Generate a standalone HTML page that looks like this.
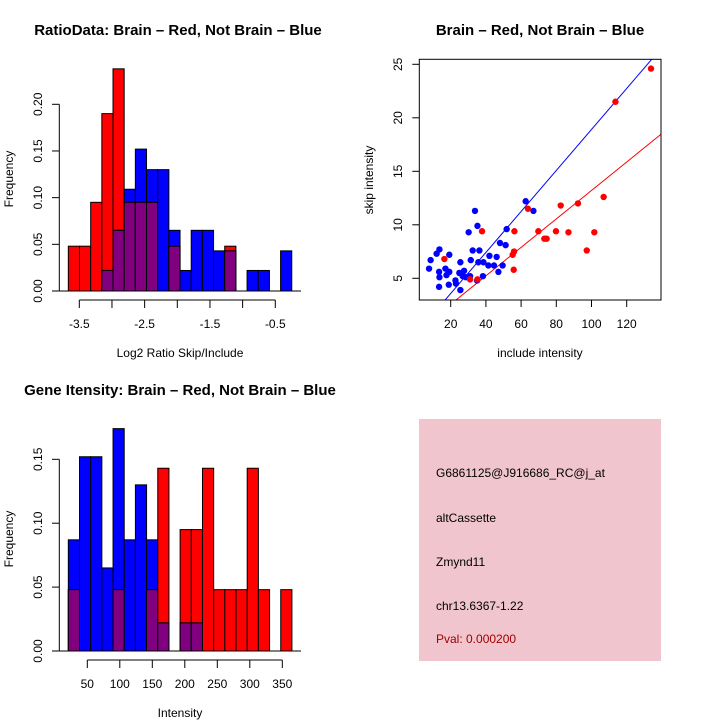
<!DOCTYPE html>
<html><head><meta charset="utf-8"><style>
body{margin:0;background:#fff}
svg text{font-family:"Liberation Sans",sans-serif;fill:#000}
</style></head><body>
<svg id="s" width="720" height="720" xmlns="http://www.w3.org/2000/svg">
<rect width="720" height="720" fill="#fff"/>
<g id="p1"></g>
<g id="p2"></g>
<g id="p3"></g>
<g>
<rect x="419" y="419" width="242" height="242" fill="#f1c5cd"/>
<text x="436" y="477" font-size="12">G6861125@J916686_RC@j_at</text>
<text x="436" y="522" font-size="12">altCassette</text>
<text x="436" y="566" font-size="12">Zmynd11</text>
<text x="436" y="610" font-size="12">chr13.6367-1.22</text>
<text x="436" y="643" font-size="12" style="fill:#a00000">Pval: 0.000200</text>
</g>
</svg>
<script>
// Plot 1 data
const ratioBinStart=-3.668, ratioBinWidth=0.171;
const ratioRed=[0.048,0.048,0.095,0.19,0.238,0.095,0.095,0.095,0,0.048,0,0,0,0,0.048,0,0,0,0,0];
const ratioBlue=[0,0,0,0.022,0.065,0.109,0.152,0.13,0.13,0.065,0.022,0.065,0.065,0.043,0.043,0,0.022,0.022,0,0.043];
const ratioXTicks=[-3.5,-3,-2.5,-2,-1.5,-1,-0.5];
const ratioXLabels=["-3.5","","-2.5","","-1.5","","-0.5"];
const ratioYTicks=[0,0.05,0.1,0.15,0.2];
const ratioYLabels=["0.00","0.05","0.10","0.15","0.20"];
// Plot 2 data
const redX=[133.8,113.6,106.9,92.3,82.5,63.9,101.6,86.9,79.8,69.8,56.2,37.8,73.2,74.5,97.3,56.0,55.2,55.8,16.4,35.2,31];
const redY=[24.6,21.5,12.6,12.0,11.8,11.5,9.3,9.3,9.4,9.4,9.4,9.4,8.7,8.7,7.6,7.5,7.2,5.8,6.8,4.9,4.9];
const blueX=[62.6,67,33.8,35.2,51.8,30.2,48,51.2,13.6,12,19.2,8.6,32.5,36.3,42,46.1,31.4,35.7,38.6,41.4,44.6,49.5,25.5,7.7,17,13.4,19.2,17.6,24.9,27.6,26.8,28.6,31,47.1,38.3,35,13.6,22.7,23,18.9,13.4,25.5];
const blueY=[12.2,11.3,11.3,9.9,9.6,9.3,8.3,8.1,7.7,7.3,7.2,6.7,7.6,7.6,7.1,7.0,6.7,6.5,6.5,6.2,6.2,6.2,6.5,5.9,5.9,5.6,5.6,5.3,5.5,5.7,5.2,5.1,5.2,5.6,5.2,4.8,5.1,4.8,4.5,4.4,4.2,3.9];
const blueFit=[-0.25,0.1916];
const redFit=[-0.09,0.133];
const scatXTicks=[20,40,60,80,100,120];
const scatYTicks=[5,10,15,20,25];
// Plot 3 data
const geneBinStart=20.8, geneBinWidth=17.2;
const geneRed=[0.048,0,0,0,0.048,0,0,0.048,0.143,0,0.095,0.095,0.143,0.048,0.048,0.048,0.143,0.048,0,0.048];
const geneBlue=[0.087,0.152,0.152,0.065,0.174,0.087,0.13,0.087,0.022,0,0.022,0.022,0,0,0,0,0,0,0,0];
const geneXTicks=[50,100,150,200,250,300,350];
const geneYTicks=[0,0.05,0.1,0.15];
const geneYLabels=["0.00","0.05","0.10","0.15"];

const NS="http://www.w3.org/2000/svg";
function mk(parent,tag,attrs,txt){const e=document.createElementNS(NS,tag);for(const k in attrs)e.setAttribute(k,attrs[k]);if(txt!==undefined)e.textContent=txt;parent.appendChild(e);return e;}

function hist(g,o){
  const sx=v=>o.x0+(v-o.v0)*o.kx, sy=v=>o.y0-v*o.ky;
  const n=o.red.length;
  for(let i=0;i<n;i++){
    const a=sx(o.bs+i*o.bw), b=sx(o.bs+(i+1)*o.bw);
    const r=o.red[i], bl=o.blue[i], m=Math.min(r,bl);
    if(r>0){const e=mk(g,'rect',{x:a,y:sy(r),width:b-a,height:sy(0)-sy(r),fill:'#ff0000',stroke:'#000','stroke-width':1});
      
      }
    if(bl>0){const e=mk(g,'rect',{x:a,y:sy(bl),width:b-a,height:sy(0)-sy(bl),fill:'#0000ff',stroke:'#000','stroke-width':1});
      
      }
    if(m>0){const e=mk(g,'rect',{x:a,y:sy(m),width:b-a,height:sy(0)-sy(m),fill:'#800080',stroke:'#000','stroke-width':1});
      
      }
  }
  mk(g,'line',{x1:59.3,x2:301,y1:sy(0),y2:sy(0),stroke:'#000'});
  const yt=o.yTicks;
  mk(g,'line',{x1:59.3,x2:59.3,y1:sy(yt[0]),y2:sy(yt[yt.length-1]),stroke:'#000'});
  yt.forEach((t,i)=>{mk(g,'line',{x1:52,x2:59.3,y1:sy(t),y2:sy(t),stroke:'#000'});
    const e=mk(g,'text',{x:42,y:sy(t),'font-size':12,'text-anchor':'middle',transform:`rotate(-90 42 ${sy(t)})`},o.yLabels[i]);
    
    });
  const xt=o.xTicks, ay=o.y0+9;
  mk(g,'line',{x1:sx(xt[0]),x2:sx(xt[xt.length-1]),y1:ay,y2:ay,stroke:'#000'});
  xt.forEach((t,i)=>{mk(g,'line',{x1:sx(t),x2:sx(t),y1:ay,y2:ay+8,stroke:'#000'});
    const e=mk(g,'text',{x:sx(t),y:ay+28,'font-size':12,'text-anchor':'middle'},o.xLabels[i]);
    
    });
  let e=mk(g,'text',{x:o.tx,y:o.ty,'font-size':15,'font-weight':'bold','text-anchor':'middle'},o.title);
  
  
  e=mk(g,'text',{x:180,y:o.y0+66,'font-size':12,'text-anchor':'middle'},o.xlab);
  
  
  e=mk(g,'text',{x:13,y:o.ylabY,'font-size':12,'text-anchor':'middle',transform:`rotate(-90 13 ${o.ylabY})`},'Frequency');
  
  
}
hist(document.getElementById('p1'),{x0:79.3,v0:-3.5,kx:65.33,y0:291,ky:933.5,bs:ratioBinStart,bw:ratioBinWidth,red:ratioRed,blue:ratioBlue,
  xTicks:ratioXTicks,xLabels:ratioXLabels,yTicks:ratioYTicks,yLabels:ratioYLabels,title:'RatioData: Brain \u2013 Red, Not Brain \u2013 Blue',tx:178,ty:35,xlab:'Log2 Ratio Skip/Include',ylabY:179});
hist(document.getElementById('p3'),{x0:87.3,v0:50,kx:0.65,y0:651,ky:1278,bs:geneBinStart,bw:geneBinWidth,red:geneRed,blue:geneBlue,
  xTicks:geneXTicks,xLabels:geneXTicks.map(String),yTicks:geneYTicks,yLabels:geneYLabels,title:'Gene Itensity: Brain \u2013 Red, Not Brain \u2013 Blue',tx:180,ty:395,xlab:'Intensity',ylabY:539});

(function(){
  const g=document.getElementById('p2');
  const L=419.3,R=661,T=59.3,B=300;
  const sx=v=>450.7+(v-20)*1.76, sy=v=>278.3-(v-5)*10.7;
  const xmin=(L-450.7)/1.76+20, xmax=(R-450.7)/1.76+20;
  mk(g,'defs',{}).innerHTML=`<clipPath id="cp"><rect x="${L}" y="${T}" width="${R-L}" height="${B-T}"/></clipPath>`;
  const cl=mk(g,'g',{'clip-path':'url(#cp)'});
  let e=mk(cl,'line',{x1:sx(xmin),y1:sy(blueFit[0]+blueFit[1]*xmin),x2:sx(xmax),y2:sy(blueFit[0]+blueFit[1]*xmax),stroke:'#0000ff'});
  
  
  e=mk(cl,'line',{x1:sx(xmin),y1:sy(redFit[0]+redFit[1]*xmin),x2:sx(xmax),y2:sy(redFit[0]+redFit[1]*xmax),stroke:'#ff0000'});
  
  
  blueX.forEach((x,i)=>{const c=mk(cl,'circle',{cx:sx(x),cy:sy(blueY[i]),r:3.2,fill:'#0000ff'});
    
    });
  redX.forEach((x,i)=>{const c=mk(cl,'circle',{cx:sx(x),cy:sy(redY[i]),r:3.2,fill:'#ff0000'});
    
    });
  mk(g,'rect',{x:L,y:T,width:R-L,height:B-T,fill:'none',stroke:'#000'});
  scatXTicks.forEach(t=>{mk(g,'line',{x1:sx(t),x2:sx(t),y1:B,y2:B+7,stroke:'#000'});
    const e=mk(g,'text',{x:sx(t),y:B+28,'font-size':12,'text-anchor':'middle'},String(t));
    
    });
  scatYTicks.forEach(t=>{mk(g,'line',{x1:L-7,x2:L,y1:sy(t),y2:sy(t),stroke:'#000'});
    const e=mk(g,'text',{x:402,y:sy(t),'font-size':12,'text-anchor':'middle',transform:`rotate(-90 402 ${sy(t)})`},String(t));
    
    });
  e=mk(g,'text',{x:540,y:35,'font-size':15,'font-weight':'bold','text-anchor':'middle'},'Brain \u2013 Red, Not Brain \u2013 Blue');
  
  
  e=mk(g,'text',{x:540,y:357,'font-size':12,'text-anchor':'middle'},'include intensity');
  
  
  e=mk(g,'text',{x:373,y:180,'font-size':12,'text-anchor':'middle',transform:'rotate(-90 373 180)'},'skip intensity');
  
  
})();
</script>
</body></html>
